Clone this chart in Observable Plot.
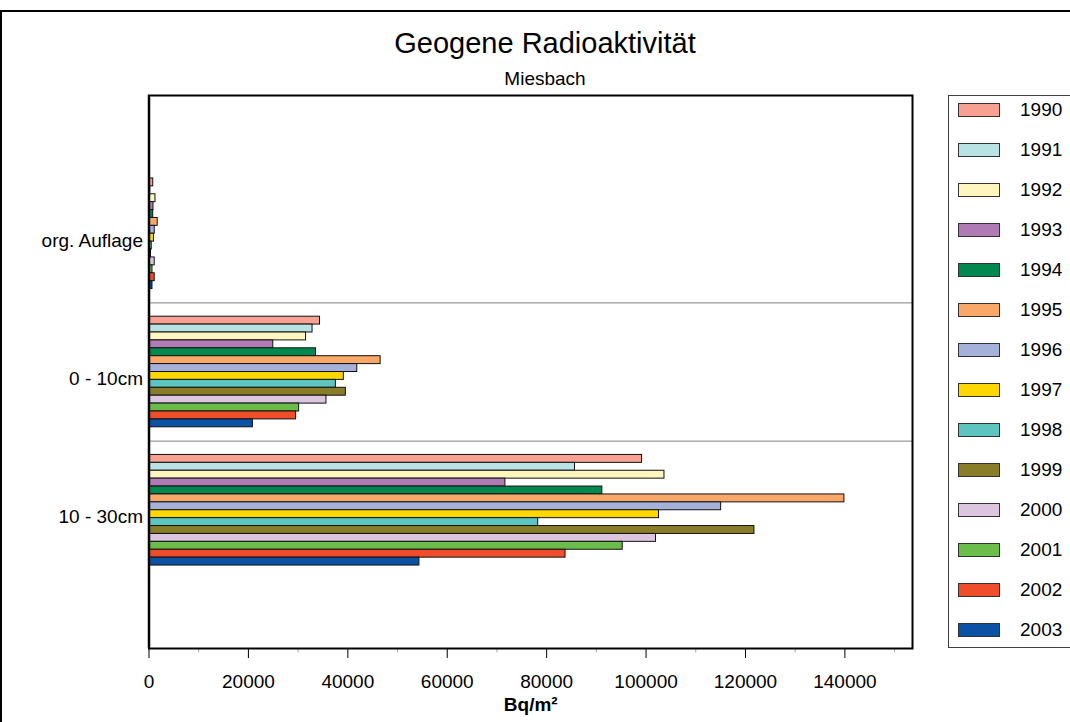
<!DOCTYPE html>
<html>
<head>
<meta charset="utf-8">
<script src="https://cdn.jsdelivr.net/npm/d3@7"></script>
<script src="https://cdn.jsdelivr.net/npm/@observablehq/plot@0.6"></script>
<style>
  html, body { margin: 0; padding: 0; background: #fff; overflow: hidden; }
  body { width: 1070px; height: 722px; position: relative; font-family: "Liberation Sans", Arial, sans-serif; color: #000; }
  #border { position: absolute; left: 0; top: 10px; width: 1200px; height: 800px; border-left: 2px solid #000; border-top: 2px solid #000; box-sizing: border-box; }
  #title { position: absolute; left: 0; width: 1090px; top: 29px; text-align: center; font-size: 29px; line-height: 29px; }
  #subtitle { position: absolute; left: 0; width: 1090px; top: 69px; text-align: center; font-size: 19px; line-height: 19px; }
  #chart { position: absolute; left: 0; top: 0; }
  #legend { position: absolute; left: 948px; top: 95px; width: 200px; height: 553px; border: 1.5px solid #404040; box-sizing: border-box; background: #fff; }
  .item { position: absolute; left: 0; height: 20px; width: 200px; }
  .sw { position: absolute; left: 9px; top: 3px; width: 40px; height: 12px; border: 1px solid #333; box-sizing: content-box; }
  .lab { position: absolute; left: 71px; top: 0; font-size: 19px; line-height: 20px; }
</style>
</head>
<body>
<div id="border"></div>
<div id="chart"></div>
<div id="title">Geogene Radioaktivität</div>
<div id="subtitle">Miesbach</div>
<div id="legend"></div>
<script>
// ---- data ----
const categories = ["org. Auflage", "0 - 10cm", "10 - 30cm"];
const years = ["1990","1991","1992","1993","1994","1995","1996","1997","1998","1999","2000","2001","2002","2003"];
const colors = ["#F8A192","#B8E2E4","#FFF5BE","#B07AB4","#00884E","#F9A86A","#A5B1D9","#FFD700","#5EC4BF","#8A7D2A","#DCC6DF","#6ABD4A","#F04E2A","#0B52A4"];
const orgAuflage = [850, 250, 1300, 900, 850, 1750, 1150, 1000, 550, 400, 1150, 700, 1150, 700];
const cm0to10 = [34400, 32900, 31600, 25000, 33600, 46600, 41900, 39200, 37600, 39600, 35700, 30200, 29600, 20900];
const cm10to30 = [99200, 85700, 103700, 71700, 91200, 139900, 115100, 102600, 78300, 121800, 102000, 95300, 83800, 54400];
const series = [orgAuflage, cm0to10, cm10to30];
const xTicks = [0, 20000, 40000, 60000, 80000, 100000, 120000, 140000];
const xMinorTicks = [10000, 30000, 50000, 70000, 90000, 110000, 130000, 150000];
const xMax = 153600;
const axisTitle = "Bq/m²";

// ---- layout in category units: each bar is one unit, each category band holds the years plus a gap ----
const step = years.length + 3.5;
const yMax = step * (categories.length + 1);
const rows = [];
categories.forEach((cat, ci) => {
  series[ci].forEach((v, yi) => {
    const start = (ci + 1) * step - years.length / 2 + yi;
    rows.push({cat, year: years[yi], value: v, y1: start, y2: start + 1});
  });
});
const catRows = categories.map((c, i) => ({cat: c, center: (i + 1) * step}));
const separators = categories.slice(0, -1).map((c, i) => (i + 1.5) * step);

const plot = Plot.plot({
  width: 1070,
  height: 722,
  marginLeft: 148.5,
  marginRight: 158,
  marginTop: 95,
  marginBottom: 74,
  style: {fontFamily: "'Liberation Sans', Arial, sans-serif", fontSize: "19px", background: "transparent", color: "#000", overflow: "visible"},
  x: {domain: [0, xMax], ticks: xTicks, tickFormat: d => String(d), tickSize: 10, tickPadding: 16, label: null},
  y: {domain: [0, yMax], reverse: true, axis: null},
  color: {domain: years, range: colors},
  marks: [
    Plot.ruleY(separators, {y: d => d, stroke: "#808080", strokeWidth: 1}),
    Plot.rectX(rows, {x1: 0, x2: "value", y1: "y1", y2: "y2", fill: "year", stroke: "#111", strokeWidth: 1}),
    Plot.ruleX(xMinorTicks, {x: d => d, y1: yMax, y2: yMax + 0.55, stroke: "#aaa", strokeWidth: 1}),
    Plot.frame({stroke: "#000", strokeWidth: 2}),
    Plot.ruleX([0], {stroke: "#000", strokeWidth: 2.5}),
    Plot.text(catRows, {x: 0, y: "center", text: "cat", textAnchor: "end", dx: -6, dy: 7, fontSize: 19}),
    Plot.text([axisTitle], {text: d => d, frameAnchor: "bottom", dy: 62, fontWeight: "bold", fontSize: 19})
  ]
});
document.getElementById("chart").appendChild(plot);

// ---- legend ----
const legend = document.getElementById("legend");
years.forEach((y, i) => {
  const item = document.createElement("div");
  item.className = "item";
  item.style.top = (15 - 10 + 40 * i - 1.5) + "px";
  const sw = document.createElement("div");
  sw.className = "sw";
  sw.style.background = colors[i];
  const lab = document.createElement("div");
  lab.className = "lab";
  lab.textContent = y;
  item.appendChild(sw);
  item.appendChild(lab);
  legend.appendChild(item);
});
</script>
</body>
</html>
